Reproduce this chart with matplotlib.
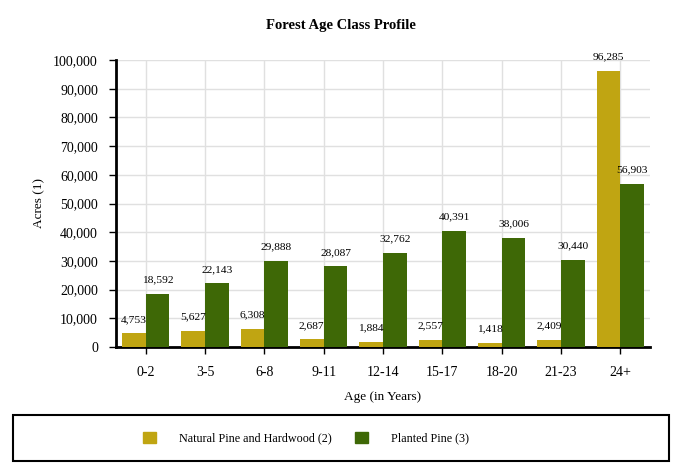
import matplotlib.pyplot as plt
import matplotlib.patches as mpatches
import numpy as np

categories = ['0-2', '3-5', '6-8', '9-11', '12-14', '15-17', '18-20', '21-23', '24+']
natural = [4753, 5627, 6308, 2687, 1884, 2557, 1418, 2409, 96285]
planted = [18592, 22143, 29888, 28087, 32762, 40391, 38006, 30440, 56903]
series_names = ['Natural Pine and Hardwood (2)', 'Planted Pine (3)']
colors = ['#C0A512', '#3E6806']

plt.rcParams['font.family'] = ['Liberation Serif', 'DejaVu Serif']

fig = plt.figure(figsize=(6.82, 4.74), dpi=100)
ax = fig.add_axes([116/682, 1 - 347/474, (650-116)/682, (347-60)/474])

x = np.arange(len(categories))
w = 0.40
b1 = ax.bar(x - w/2, natural, w, color=colors[0], zorder=3)
b2 = ax.bar(x + w/2, planted, w, color=colors[1], zorder=3)

# value labels above each bar
for bars, vals in [(b1, natural), (b2, planted)]:
    for r, v in zip(bars, vals):
        ax.annotate(f'{v:,}', (r.get_x() + r.get_width()/2, v),
                    xytext=(0, 14), textcoords='offset pixels',
                    ha='center', va='center', fontsize=8.2, annotation_clip=False)

ax.set_xlim(-0.5, len(categories) - 0.5)
ax.set_ylim(0, 100000)
ax.set_yticks(np.arange(0, 100001, 10000))
ax.yaxis.set_major_formatter(plt.FuncFormatter(lambda v, p: f'{int(v):,}'))
ax.set_xticks(x)
ax.set_xticklabels(categories)
ax.tick_params(axis='both', labelsize=10, length=5, width=1, color='black')
ax.tick_params(axis='x', pad=9)
ax.tick_params(axis='y', pad=8)

ax.grid(True, color='#e0e0e0', linewidth=1, zorder=0)
for s in ['top', 'right']:
    ax.spines[s].set_visible(False)
ax.spines['left'].set_linewidth(2)
ax.spines['bottom'].set_linewidth(2)

ax.set_xlabel('Age (in Years)', fontsize=9.5, labelpad=8)
ax.set_ylabel('Acres (1)', fontsize=9.5, labelpad=6)
fig.text(0.5, 1 - 25/474, 'Forest Age Class Profile', ha='center', va='center',
         fontsize=10.5, fontweight='bold')

# legend box
fig.patches.append(mpatches.Rectangle((13/682, 1 - 461/474), 656/682, 46/474,
                                      transform=fig.transFigure, fill=False,
                                      edgecolor='black', linewidth=1.5))
handles = [mpatches.Patch(color=c) for c in colors]
fig.legend(handles, series_names, loc='center', bbox_to_anchor=(0.449, 1 - 438/474),
           ncol=2, frameon=False, fontsize=8.7, handlelength=1.1, handleheight=1.1,
           handletextpad=1.9, columnspacing=1.9)

plt.savefig('out.png', dpi=100)
